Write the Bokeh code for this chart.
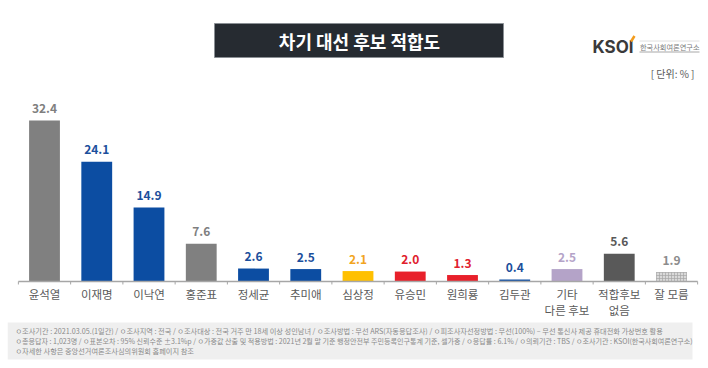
from bokeh.plotting import figure
from bokeh.models import FactorRange, Range1d, ColumnDataSource
from bokeh.core.properties import value
from bokeh.embed import file_html
from bokeh.resources import INLINE

# ---------------- data ----------------
categories = ["윤석열", "이재명", "이낙연", "홍준표", "정세균", "추미애", "심상정",
              "유승민", "원희룡", "김두관", "기타 다른 후보", "적합후보 없음", "잘 모름"]
tick_labels = ["윤석열", "이재명", "이낙연", "홍준표", "정세균", "추미애", "심상정",
               "유승민", "원희룡", "김두관", "기타\n다른 후보", "적합후보\n없음", "잘 모름"]
values = [32.4, 24.1, 14.9, 7.6, 2.6, 2.5, 2.1, 2.0, 1.3, 0.4, 2.5, 5.6, 1.9]

bar_colors = ["#808080", "#0c4da2", "#0c4da2", "#808080", "#0c4da2", "#0c4da2", "#ffc000",
              "#e8202a", "#e8202a", "#0c4da2", "#b4a3c8", "#595959", "#d9d9d9"]
label_colors = ["#7f7f7f", "#1c4f9c", "#1c4f9c", "#7f7f7f", "#1c4f9c", "#1c4f9c", "#f2a51f",
                "#e0202c", "#e0202c", "#1c4f9c", "#b4a3c8", "#595959", "#8c8c8c"]
hatches = ["", "", "", "", "", "", "", "", "", "", "", "", "cross"]

title_text = "차기 대선 후보 적합도"
unit_text = "[ 단위: % ]"
logo_text = "KSOI"
logo_sub = "한국사회여론연구소"
footer_line1 = "ㅇ조사기간 : 2021.03.05.(1일간)  /  ㅇ조사지역 : 전국  /  ㅇ조사대상 : 전국 거주 만 18세 이상 성인남녀  /  ㅇ조사방법 : 무선 ARS(자동응답조사)  /  ㅇ피조사자선정방법 : 무선(100%) – 무선 통신사 제공 휴대전화 가상번호 활용"
footer_line2 = "ㅇ총응답자 : 1,023명 / ㅇ표본오차 : 95% 신뢰수준 ±3.1%p / ㅇ가중값 산출 및 적용방법 : 2021년 2월 말 기준 행정안전부 주민등록인구통계 기준, 셀가중 / ㅇ응답률 : 6.1% / ㅇ의뢰기관 : TBS / ㅇ조사기관 : KSOI(한국사회여론연구소)"
footer_line3 = "ㅇ자세한 사항은 중앙선거여론조사심의위원회 홈페이지 참조"

KR = "Noto Sans CJK KR"

# ---------------- figure ----------------
W, H = 708, 368
LB = 7                      # left border outside the frame
band = 52.25                # px per category
pad = ((W - LB) - len(categories) * band) / 2 / band
x_range = FactorRange(*categories, range_padding=pad, range_padding_units="absolute")
k = 4.97                    # px per percent
base = 281
y_range = Range1d(-(H - base) / k, base / k)


def px(xv):
    """page-pixel x -> synthetic category coordinate (for decorations only)"""
    return (xv - LB) / band - pad


p = figure(width=W, height=H, x_range=x_range, y_range=y_range,
           output_backend="svg", toolbar_location=None, min_border=0, min_border_left=LB,
           x_axis_location=None, y_axis_location=None,
           background_fill_color="white", border_fill_color="white")
p.outline_line_color = None
p.grid.visible = False
p.extra_y_ranges = {"px": Range1d(H, 0)}

src = ColumnDataSource(dict(cat=categories, val=values, col=bar_colors, lcol=label_colors,
                            hatch=hatches, lab=[f"{v:.1f}" for v in values], tick=tick_labels))

# title box
p.quad(left=[px(214)], right=[px(503)], top=[23], bottom=[57], fill_color="#262b31",
       line_color="#8a8f94", line_width=1, y_range_name="px")
p.text(x=[px(359)], y=[40.5], text=[title_text], text_color="white", text_font=value(KR),
       text_font_size="18px", text_font_style="bold", text_align="center", text_baseline="middle",
       y_range_name="px")

# logo
p.text(x=[px(592)], y=[46], text=[logo_text], text_color="#3a3a3a", text_font=value("Inter"),
       text_font_size="17px", text_font_style="bold", text_align="left", text_baseline="middle",
       y_range_name="px")
p.segment(x0=[px(630.5)], y0=[41], x1=[px(634)], y1=[35.5], line_color="#f39c1d", line_width=2.5,
          y_range_name="px")
p.text(x=[px(639.5)], y=[46.5], text=[logo_sub], text_color="#7a7a7a", text_font=value(KR),
       text_font_size="7.2px", text_align="left", text_baseline="middle",
       y_range_name="px")
p.segment(x0=[px(639)] * 2, y0=[40.5, 51.5], x1=[px(699)] * 2, y1=[40.5, 51.5],
          line_color=["#e0e0e0", "#a8a8a8"], line_width=1, y_range_name="px")
p.text(x=[px(694)], y=[73], text=[unit_text], text_color="#595959", text_font=value(KR),
       text_font_size="10px", text_align="right", text_baseline="middle",
       y_range_name="px")

# bars
p.vbar(x="cat", top="val", bottom=0, width=0.59, source=src, fill_color="col",
       line_color=None, hatch_pattern="hatch", hatch_color="#a6a6a6", hatch_scale=3,
       hatch_weight=0.7)

# baseline + ticks (band boundaries in the category scale)
nb = len(categories)
p.segment(x0=[0], y0=[0], x1=[nb], y1=[0], line_color="#a6a6a6", line_width=1.5)
p.segment(x0=list(range(nb + 1)), y0=[0] * (nb + 1), x1=list(range(nb + 1)), y1=[-0.6] * (nb + 1),
          line_color="#a6a6a6", line_width=1)

# value labels
p.text(x="cat", y="val", text="lab", source=src, text_color="lcol", y_offset=-12,
       text_font=value(KR), text_font_size="12px", text_font_style="bold",
       text_align="center", text_baseline="middle")

# category labels
p.text(x="cat", y=285, text="tick", source=src, text_color="#595959", y_range_name="px",
       text_font=value(KR), text_font_size="11.5px", text_align="center", text_baseline="top",
       text_line_height=1.05)

# footer
p.quad(left=[px(LB)], right=[px(692)], top=[322], bottom=[359], fill_color="#efefef", line_color=None,
       y_range_name="px")
p.text(x=[px(15)], y=[330.5], text=[footer_line1], text_color="#8a8a8a",
       text_font=value(KR), text_font_size="7.2px", text_align="left", text_baseline="middle",
       y_range_name="px")
p.text(x=[px(15)], y=[340.5], text=[footer_line2], text_color="#8a8a8a",
       text_font=value(KR), text_font_size="7.05px", text_align="left", text_baseline="middle",
       y_range_name="px")
p.text(x=[px(15)], y=[350], text=[footer_line3], text_color="#8a8a8a",
       text_font=value(KR), text_font_size="7.2px", text_align="left", text_baseline="middle",
       y_range_name="px")

open("out.html", "w").write(file_html(p, INLINE))
